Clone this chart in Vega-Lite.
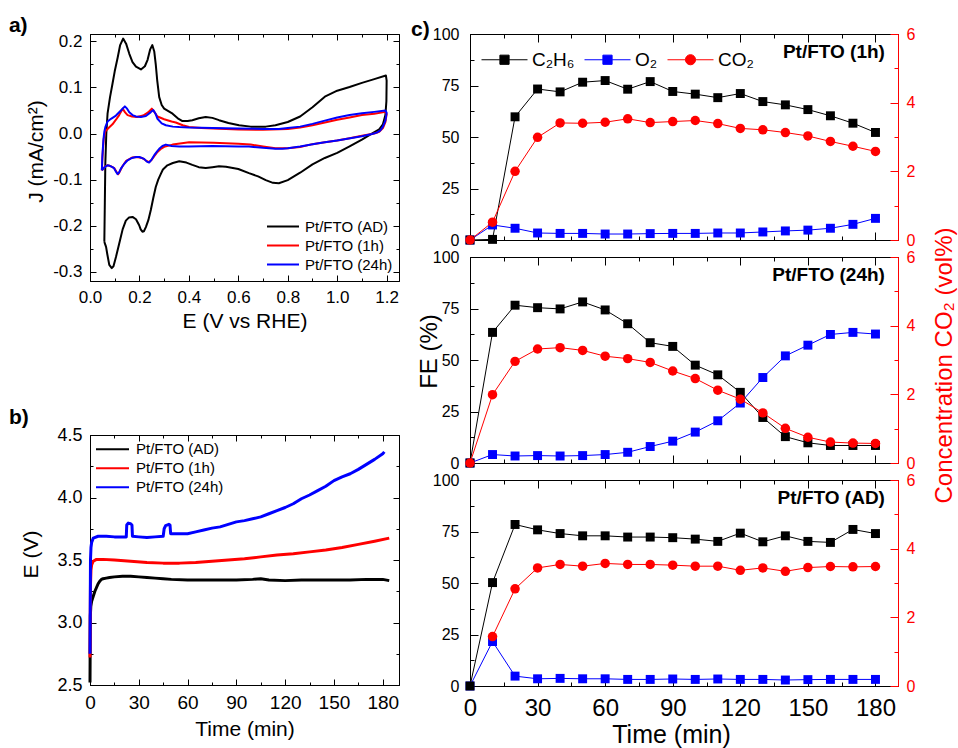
{
  "$schema": "https://vega.github.io/schema/vega-lite/v6.json",
  "background": "white",
  "padding": {"left": 8, "top": 14, "right": 2, "bottom": 2},
  "config": {
    "font": "Liberation Sans",
    "view": {"stroke": "black", "strokeWidth": 1},
    "axis": {"grid": false, "domainColor": "black", "tickColor": "black", "labelColor": "black", "titleColor": "black", "titleFontWeight": "normal", "labelOverlap": false, "labelFlush": false, "labelBound": false, "tickWidth": 1, "domainWidth": 1, "labelFont": "Liberation Sans", "titleFont": "Liberation Sans"},
    "legend": {"labelFont": "Liberation Sans", "labelColor": "black"},
    "text": {"font": "Liberation Sans"}
  },
  "datasets": {
    "cv": [
      {"s":"Pt/FTO (AD)","i":0,"E":0.058,"J":-0.235},{"s":"Pt/FTO (AD)","i":1,"E":0.060,"J":-0.15},{"s":"Pt/FTO (AD)","i":2,"E":0.062,"J":-0.065},{"s":"Pt/FTO (AD)","i":3,"E":0.066,"J":0.0},{"s":"Pt/FTO (AD)","i":4,"E":0.071,"J":0.043},{"s":"Pt/FTO (AD)","i":5,"E":0.081,"J":0.079},{"s":"Pt/FTO (AD)","i":6,"E":0.091,"J":0.108},{"s":"Pt/FTO (AD)","i":7,"E":0.100,"J":0.135},{"s":"Pt/FTO (AD)","i":8,"E":0.112,"J":0.165},{"s":"Pt/FTO (AD)","i":9,"E":0.122,"J":0.192},{"s":"Pt/FTO (AD)","i":10,"E":0.134,"J":0.206},{"s":"Pt/FTO (AD)","i":11,"E":0.146,"J":0.195},{"s":"Pt/FTO (AD)","i":12,"E":0.159,"J":0.173},{"s":"Pt/FTO (AD)","i":13,"E":0.172,"J":0.155},{"s":"Pt/FTO (AD)","i":14,"E":0.186,"J":0.145},{"s":"Pt/FTO (AD)","i":15,"E":0.206,"J":0.139},{"s":"Pt/FTO (AD)","i":16,"E":0.222,"J":0.146},{"s":"Pt/FTO (AD)","i":17,"E":0.233,"J":0.160},{"s":"Pt/FTO (AD)","i":18,"E":0.243,"J":0.182},{"s":"Pt/FTO (AD)","i":19,"E":0.252,"J":0.192},{"s":"Pt/FTO (AD)","i":20,"E":0.260,"J":0.178},{"s":"Pt/FTO (AD)","i":21,"E":0.266,"J":0.150},{"s":"Pt/FTO (AD)","i":22,"E":0.272,"J":0.115},{"s":"Pt/FTO (AD)","i":23,"E":0.280,"J":0.079},{"s":"Pt/FTO (AD)","i":24,"E":0.290,"J":0.062},{"s":"Pt/FTO (AD)","i":25,"E":0.300,"J":0.054},{"s":"Pt/FTO (AD)","i":26,"E":0.334,"J":0.043},{"s":"Pt/FTO (AD)","i":27,"E":0.355,"J":0.033},{"s":"Pt/FTO (AD)","i":28,"E":0.374,"J":0.027},{"s":"Pt/FTO (AD)","i":29,"E":0.395,"J":0.027},{"s":"Pt/FTO (AD)","i":30,"E":0.414,"J":0.029},{"s":"Pt/FTO (AD)","i":31,"E":0.440,"J":0.033},{"s":"Pt/FTO (AD)","i":32,"E":0.468,"J":0.036},{"s":"Pt/FTO (AD)","i":33,"E":0.495,"J":0.034},{"s":"Pt/FTO (AD)","i":34,"E":0.522,"J":0.029},{"s":"Pt/FTO (AD)","i":35,"E":0.560,"J":0.023},{"s":"Pt/FTO (AD)","i":36,"E":0.603,"J":0.018},{"s":"Pt/FTO (AD)","i":37,"E":0.650,"J":0.015},{"s":"Pt/FTO (AD)","i":38,"E":0.711,"J":0.015},{"s":"Pt/FTO (AD)","i":39,"E":0.750,"J":0.018},{"s":"Pt/FTO (AD)","i":40,"E":0.800,"J":0.025},{"s":"Pt/FTO (AD)","i":41,"E":0.850,"J":0.037},{"s":"Pt/FTO (AD)","i":42,"E":0.900,"J":0.057},{"s":"Pt/FTO (AD)","i":43,"E":0.950,"J":0.080},{"s":"Pt/FTO (AD)","i":44,"E":1.000,"J":0.093},{"s":"Pt/FTO (AD)","i":45,"E":1.050,"J":0.101},{"s":"Pt/FTO (AD)","i":46,"E":1.100,"J":0.110},{"s":"Pt/FTO (AD)","i":47,"E":1.150,"J":0.118},{"s":"Pt/FTO (AD)","i":48,"E":1.197,"J":0.126},{"s":"Pt/FTO (AD)","i":49,"E":1.200,"J":0.115},{"s":"Pt/FTO (AD)","i":50,"E":1.199,"J":0.070},{"s":"Pt/FTO (AD)","i":51,"E":1.195,"J":0.040},{"s":"Pt/FTO (AD)","i":52,"E":1.185,"J":0.020},{"s":"Pt/FTO (AD)","i":53,"E":1.170,"J":0.009},{"s":"Pt/FTO (AD)","i":54,"E":1.140,"J":0.000},{"s":"Pt/FTO (AD)","i":55,"E":1.100,"J":-0.013},{"s":"Pt/FTO (AD)","i":56,"E":1.050,"J":-0.028},{"s":"Pt/FTO (AD)","i":57,"E":1.000,"J":-0.042},{"s":"Pt/FTO (AD)","i":58,"E":0.950,"J":-0.053},{"s":"Pt/FTO (AD)","i":59,"E":0.900,"J":-0.067},{"s":"Pt/FTO (AD)","i":60,"E":0.850,"J":-0.085},{"s":"Pt/FTO (AD)","i":61,"E":0.800,"J":-0.101},{"s":"Pt/FTO (AD)","i":62,"E":0.764,"J":-0.108},{"s":"Pt/FTO (AD)","i":63,"E":0.740,"J":-0.107},{"s":"Pt/FTO (AD)","i":64,"E":0.711,"J":-0.101},{"s":"Pt/FTO (AD)","i":65,"E":0.680,"J":-0.093},{"s":"Pt/FTO (AD)","i":66,"E":0.643,"J":-0.086},{"s":"Pt/FTO (AD)","i":67,"E":0.600,"J":-0.077},{"s":"Pt/FTO (AD)","i":68,"E":0.550,"J":-0.072},{"s":"Pt/FTO (AD)","i":69,"E":0.522,"J":-0.071},{"s":"Pt/FTO (AD)","i":70,"E":0.495,"J":-0.073},{"s":"Pt/FTO (AD)","i":71,"E":0.468,"J":-0.075},{"s":"Pt/FTO (AD)","i":72,"E":0.440,"J":-0.073},{"s":"Pt/FTO (AD)","i":73,"E":0.414,"J":-0.068},{"s":"Pt/FTO (AD)","i":74,"E":0.390,"J":-0.063},{"s":"Pt/FTO (AD)","i":75,"E":0.361,"J":-0.060},{"s":"Pt/FTO (AD)","i":76,"E":0.335,"J":-0.064},{"s":"Pt/FTO (AD)","i":77,"E":0.313,"J":-0.069},{"s":"Pt/FTO (AD)","i":78,"E":0.295,"J":-0.078},{"s":"Pt/FTO (AD)","i":79,"E":0.287,"J":-0.087},{"s":"Pt/FTO (AD)","i":80,"E":0.276,"J":-0.100},{"s":"Pt/FTO (AD)","i":81,"E":0.266,"J":-0.116},{"s":"Pt/FTO (AD)","i":82,"E":0.256,"J":-0.140},{"s":"Pt/FTO (AD)","i":83,"E":0.246,"J":-0.166},{"s":"Pt/FTO (AD)","i":84,"E":0.236,"J":-0.188},{"s":"Pt/FTO (AD)","i":85,"E":0.226,"J":-0.203},{"s":"Pt/FTO (AD)","i":86,"E":0.218,"J":-0.212},{"s":"Pt/FTO (AD)","i":87,"E":0.212,"J":-0.213},{"s":"Pt/FTO (AD)","i":88,"E":0.205,"J":-0.208},{"s":"Pt/FTO (AD)","i":89,"E":0.199,"J":-0.199},{"s":"Pt/FTO (AD)","i":90,"E":0.186,"J":-0.186},{"s":"Pt/FTO (AD)","i":91,"E":0.172,"J":-0.181},{"s":"Pt/FTO (AD)","i":92,"E":0.158,"J":-0.182},{"s":"Pt/FTO (AD)","i":93,"E":0.145,"J":-0.189},{"s":"Pt/FTO (AD)","i":94,"E":0.132,"J":-0.208},{"s":"Pt/FTO (AD)","i":95,"E":0.118,"J":-0.239},{"s":"Pt/FTO (AD)","i":96,"E":0.105,"J":-0.268},{"s":"Pt/FTO (AD)","i":97,"E":0.095,"J":-0.288},{"s":"Pt/FTO (AD)","i":98,"E":0.088,"J":-0.292},{"s":"Pt/FTO (AD)","i":99,"E":0.078,"J":-0.285},{"s":"Pt/FTO (AD)","i":100,"E":0.070,"J":-0.262},{"s":"Pt/FTO (AD)","i":101,"E":0.065,"J":-0.246},{"s":"Pt/FTO (AD)","i":102,"E":0.058,"J":-0.235},
      {"s":"Pt/FTO (1h)","i":0,"E":0.048,"J":-0.080},{"s":"Pt/FTO (1h)","i":1,"E":0.050,"J":-0.055},{"s":"Pt/FTO (1h)","i":2,"E":0.053,"J":-0.030},{"s":"Pt/FTO (1h)","i":3,"E":0.056,"J":-0.010},{"s":"Pt/FTO (1h)","i":4,"E":0.062,"J":0.005},{"s":"Pt/FTO (1h)","i":5,"E":0.075,"J":0.012},{"s":"Pt/FTO (1h)","i":6,"E":0.091,"J":0.020},{"s":"Pt/FTO (1h)","i":7,"E":0.105,"J":0.030},{"s":"Pt/FTO (1h)","i":8,"E":0.118,"J":0.040},{"s":"Pt/FTO (1h)","i":9,"E":0.132,"J":0.054},{"s":"Pt/FTO (1h)","i":10,"E":0.142,"J":0.046},{"s":"Pt/FTO (1h)","i":11,"E":0.152,"J":0.040},{"s":"Pt/FTO (1h)","i":12,"E":0.170,"J":0.037},{"s":"Pt/FTO (1h)","i":13,"E":0.190,"J":0.036},{"s":"Pt/FTO (1h)","i":14,"E":0.215,"J":0.039},{"s":"Pt/FTO (1h)","i":15,"E":0.235,"J":0.046},{"s":"Pt/FTO (1h)","i":16,"E":0.250,"J":0.054},{"s":"Pt/FTO (1h)","i":17,"E":0.260,"J":0.047},{"s":"Pt/FTO (1h)","i":18,"E":0.273,"J":0.037},{"s":"Pt/FTO (1h)","i":19,"E":0.300,"J":0.031},{"s":"Pt/FTO (1h)","i":20,"E":0.330,"J":0.026},{"s":"Pt/FTO (1h)","i":21,"E":0.347,"J":0.024},{"s":"Pt/FTO (1h)","i":22,"E":0.375,"J":0.018},{"s":"Pt/FTO (1h)","i":23,"E":0.401,"J":0.014},{"s":"Pt/FTO (1h)","i":24,"E":0.450,"J":0.012},{"s":"Pt/FTO (1h)","i":25,"E":0.500,"J":0.011},{"s":"Pt/FTO (1h)","i":26,"E":0.600,"J":0.009},{"s":"Pt/FTO (1h)","i":27,"E":0.700,"J":0.008},{"s":"Pt/FTO (1h)","i":28,"E":0.800,"J":0.010},{"s":"Pt/FTO (1h)","i":29,"E":0.850,"J":0.013},{"s":"Pt/FTO (1h)","i":30,"E":0.900,"J":0.018},{"s":"Pt/FTO (1h)","i":31,"E":0.950,"J":0.024},{"s":"Pt/FTO (1h)","i":32,"E":1.000,"J":0.030},{"s":"Pt/FTO (1h)","i":33,"E":1.050,"J":0.035},{"s":"Pt/FTO (1h)","i":34,"E":1.100,"J":0.040},{"s":"Pt/FTO (1h)","i":35,"E":1.150,"J":0.043},{"s":"Pt/FTO (1h)","i":36,"E":1.195,"J":0.047},{"s":"Pt/FTO (1h)","i":37,"E":1.200,"J":0.042},{"s":"Pt/FTO (1h)","i":38,"E":1.195,"J":0.025},{"s":"Pt/FTO (1h)","i":39,"E":1.185,"J":0.012},{"s":"Pt/FTO (1h)","i":40,"E":1.170,"J":0.004},{"s":"Pt/FTO (1h)","i":41,"E":1.150,"J":0.000},{"s":"Pt/FTO (1h)","i":42,"E":1.100,"J":-0.005},{"s":"Pt/FTO (1h)","i":43,"E":1.050,"J":-0.010},{"s":"Pt/FTO (1h)","i":44,"E":1.000,"J":-0.015},{"s":"Pt/FTO (1h)","i":45,"E":0.950,"J":-0.019},{"s":"Pt/FTO (1h)","i":46,"E":0.900,"J":-0.023},{"s":"Pt/FTO (1h)","i":47,"E":0.850,"J":-0.029},{"s":"Pt/FTO (1h)","i":48,"E":0.800,"J":-0.032},{"s":"Pt/FTO (1h)","i":49,"E":0.750,"J":-0.032},{"s":"Pt/FTO (1h)","i":50,"E":0.700,"J":-0.028},{"s":"Pt/FTO (1h)","i":51,"E":0.650,"J":-0.024},{"s":"Pt/FTO (1h)","i":52,"E":0.600,"J":-0.022},{"s":"Pt/FTO (1h)","i":53,"E":0.500,"J":-0.020},{"s":"Pt/FTO (1h)","i":54,"E":0.401,"J":-0.019},{"s":"Pt/FTO (1h)","i":55,"E":0.334,"J":-0.024},{"s":"Pt/FTO (1h)","i":56,"E":0.300,"J":-0.029},{"s":"Pt/FTO (1h)","i":57,"E":0.285,"J":-0.034},{"s":"Pt/FTO (1h)","i":58,"E":0.273,"J":-0.040},{"s":"Pt/FTO (1h)","i":59,"E":0.260,"J":-0.049},{"s":"Pt/FTO (1h)","i":60,"E":0.248,"J":-0.058},{"s":"Pt/FTO (1h)","i":61,"E":0.238,"J":-0.062},{"s":"Pt/FTO (1h)","i":62,"E":0.225,"J":-0.058},{"s":"Pt/FTO (1h)","i":63,"E":0.210,"J":-0.053},{"s":"Pt/FTO (1h)","i":64,"E":0.190,"J":-0.051},{"s":"Pt/FTO (1h)","i":65,"E":0.170,"J":-0.052},{"s":"Pt/FTO (1h)","i":66,"E":0.145,"J":-0.060},{"s":"Pt/FTO (1h)","i":67,"E":0.130,"J":-0.072},{"s":"Pt/FTO (1h)","i":68,"E":0.120,"J":-0.083},{"s":"Pt/FTO (1h)","i":69,"E":0.114,"J":-0.088},{"s":"Pt/FTO (1h)","i":70,"E":0.107,"J":-0.083},{"s":"Pt/FTO (1h)","i":71,"E":0.098,"J":-0.075},{"s":"Pt/FTO (1h)","i":72,"E":0.085,"J":-0.071},{"s":"Pt/FTO (1h)","i":73,"E":0.070,"J":-0.069},{"s":"Pt/FTO (1h)","i":74,"E":0.060,"J":-0.072},{"s":"Pt/FTO (1h)","i":75,"E":0.054,"J":-0.076},{"s":"Pt/FTO (1h)","i":76,"E":0.048,"J":-0.080},
      {"s":"Pt/FTO (24h)","i":0,"E":0.048,"J":-0.080},{"s":"Pt/FTO (24h)","i":1,"E":0.050,"J":-0.050},{"s":"Pt/FTO (24h)","i":2,"E":0.054,"J":-0.015},{"s":"Pt/FTO (24h)","i":3,"E":0.058,"J":0.004},{"s":"Pt/FTO (24h)","i":4,"E":0.062,"J":0.014},{"s":"Pt/FTO (24h)","i":5,"E":0.071,"J":0.026},{"s":"Pt/FTO (24h)","i":6,"E":0.085,"J":0.032},{"s":"Pt/FTO (24h)","i":7,"E":0.105,"J":0.039},{"s":"Pt/FTO (24h)","i":8,"E":0.125,"J":0.050},{"s":"Pt/FTO (24h)","i":9,"E":0.141,"J":0.059},{"s":"Pt/FTO (24h)","i":10,"E":0.150,"J":0.054},{"s":"Pt/FTO (24h)","i":11,"E":0.159,"J":0.046},{"s":"Pt/FTO (24h)","i":12,"E":0.172,"J":0.040},{"s":"Pt/FTO (24h)","i":13,"E":0.186,"J":0.037},{"s":"Pt/FTO (24h)","i":14,"E":0.206,"J":0.036},{"s":"Pt/FTO (24h)","i":15,"E":0.226,"J":0.038},{"s":"Pt/FTO (24h)","i":16,"E":0.245,"J":0.046},{"s":"Pt/FTO (24h)","i":17,"E":0.256,"J":0.051},{"s":"Pt/FTO (24h)","i":18,"E":0.265,"J":0.043},{"s":"Pt/FTO (24h)","i":19,"E":0.273,"J":0.032},{"s":"Pt/FTO (24h)","i":20,"E":0.290,"J":0.022},{"s":"Pt/FTO (24h)","i":21,"E":0.307,"J":0.018},{"s":"Pt/FTO (24h)","i":22,"E":0.335,"J":0.015},{"s":"Pt/FTO (24h)","i":23,"E":0.361,"J":0.014},{"s":"Pt/FTO (24h)","i":24,"E":0.400,"J":0.013},{"s":"Pt/FTO (24h)","i":25,"E":0.495,"J":0.012},{"s":"Pt/FTO (24h)","i":26,"E":0.600,"J":0.011},{"s":"Pt/FTO (24h)","i":27,"E":0.700,"J":0.010},{"s":"Pt/FTO (24h)","i":28,"E":0.764,"J":0.010},{"s":"Pt/FTO (24h)","i":29,"E":0.800,"J":0.012},{"s":"Pt/FTO (24h)","i":30,"E":0.850,"J":0.015},{"s":"Pt/FTO (24h)","i":31,"E":0.900,"J":0.021},{"s":"Pt/FTO (24h)","i":32,"E":0.950,"J":0.028},{"s":"Pt/FTO (24h)","i":33,"E":1.000,"J":0.035},{"s":"Pt/FTO (24h)","i":34,"E":1.050,"J":0.040},{"s":"Pt/FTO (24h)","i":35,"E":1.100,"J":0.044},{"s":"Pt/FTO (24h)","i":36,"E":1.150,"J":0.047},{"s":"Pt/FTO (24h)","i":37,"E":1.195,"J":0.050},{"s":"Pt/FTO (24h)","i":38,"E":1.200,"J":0.045},{"s":"Pt/FTO (24h)","i":39,"E":1.195,"J":0.028},{"s":"Pt/FTO (24h)","i":40,"E":1.185,"J":0.015},{"s":"Pt/FTO (24h)","i":41,"E":1.175,"J":0.007},{"s":"Pt/FTO (24h)","i":42,"E":1.160,"J":0.002},{"s":"Pt/FTO (24h)","i":43,"E":1.141,"J":-0.001},{"s":"Pt/FTO (24h)","i":44,"E":1.100,"J":-0.006},{"s":"Pt/FTO (24h)","i":45,"E":1.047,"J":-0.011},{"s":"Pt/FTO (24h)","i":46,"E":1.000,"J":-0.015},{"s":"Pt/FTO (24h)","i":47,"E":0.950,"J":-0.019},{"s":"Pt/FTO (24h)","i":48,"E":0.912,"J":-0.022},{"s":"Pt/FTO (24h)","i":49,"E":0.850,"J":-0.028},{"s":"Pt/FTO (24h)","i":50,"E":0.800,"J":-0.032},{"s":"Pt/FTO (24h)","i":51,"E":0.778,"J":-0.033},{"s":"Pt/FTO (24h)","i":52,"E":0.750,"J":-0.033},{"s":"Pt/FTO (24h)","i":53,"E":0.700,"J":-0.031},{"s":"Pt/FTO (24h)","i":54,"E":0.643,"J":-0.028},{"s":"Pt/FTO (24h)","i":55,"E":0.600,"J":-0.028},{"s":"Pt/FTO (24h)","i":56,"E":0.495,"J":-0.027},{"s":"Pt/FTO (24h)","i":57,"E":0.400,"J":-0.028},{"s":"Pt/FTO (24h)","i":58,"E":0.361,"J":-0.028},{"s":"Pt/FTO (24h)","i":59,"E":0.330,"J":-0.027},{"s":"Pt/FTO (24h)","i":60,"E":0.307,"J":-0.024},{"s":"Pt/FTO (24h)","i":61,"E":0.293,"J":-0.027},{"s":"Pt/FTO (24h)","i":62,"E":0.280,"J":-0.033},{"s":"Pt/FTO (24h)","i":63,"E":0.270,"J":-0.040},{"s":"Pt/FTO (24h)","i":64,"E":0.260,"J":-0.047},{"s":"Pt/FTO (24h)","i":65,"E":0.250,"J":-0.056},{"s":"Pt/FTO (24h)","i":66,"E":0.239,"J":-0.063},{"s":"Pt/FTO (24h)","i":67,"E":0.230,"J":-0.061},{"s":"Pt/FTO (24h)","i":68,"E":0.219,"J":-0.055},{"s":"Pt/FTO (24h)","i":69,"E":0.200,"J":-0.051},{"s":"Pt/FTO (24h)","i":70,"E":0.186,"J":-0.051},{"s":"Pt/FTO (24h)","i":71,"E":0.170,"J":-0.053},{"s":"Pt/FTO (24h)","i":72,"E":0.152,"J":-0.058},{"s":"Pt/FTO (24h)","i":73,"E":0.138,"J":-0.066},{"s":"Pt/FTO (24h)","i":74,"E":0.125,"J":-0.076},{"s":"Pt/FTO (24h)","i":75,"E":0.117,"J":-0.085},{"s":"Pt/FTO (24h)","i":76,"E":0.111,"J":-0.088},{"s":"Pt/FTO (24h)","i":77,"E":0.104,"J":-0.082},{"s":"Pt/FTO (24h)","i":78,"E":0.097,"J":-0.075},{"s":"Pt/FTO (24h)","i":79,"E":0.091,"J":-0.073},{"s":"Pt/FTO (24h)","i":80,"E":0.080,"J":-0.070},{"s":"Pt/FTO (24h)","i":81,"E":0.071,"J":-0.069},{"s":"Pt/FTO (24h)","i":82,"E":0.062,"J":-0.072},{"s":"Pt/FTO (24h)","i":83,"E":0.054,"J":-0.076},{"s":"Pt/FTO (24h)","i":84,"E":0.048,"J":-0.080}
    ],
    "cp": [
      {"s":"Pt/FTO (AD)","t":0,"v":2.52},{"s":"Pt/FTO (AD)","t":0.2,"v":3.05},{"s":"Pt/FTO (AD)","t":0.5,"v":3.13},{"s":"Pt/FTO (AD)","t":1,"v":3.17},{"s":"Pt/FTO (AD)","t":2,"v":3.21},{"s":"Pt/FTO (AD)","t":3,"v":3.25},{"s":"Pt/FTO (AD)","t":4,"v":3.28},{"s":"Pt/FTO (AD)","t":5,"v":3.31},{"s":"Pt/FTO (AD)","t":6,"v":3.33},{"s":"Pt/FTO (AD)","t":7,"v":3.345},{"s":"Pt/FTO (AD)","t":8,"v":3.35},{"s":"Pt/FTO (AD)","t":10,"v":3.355},{"s":"Pt/FTO (AD)","t":12,"v":3.36},{"s":"Pt/FTO (AD)","t":15,"v":3.365},{"s":"Pt/FTO (AD)","t":20,"v":3.37},{"s":"Pt/FTO (AD)","t":25,"v":3.37},{"s":"Pt/FTO (AD)","t":30,"v":3.365},{"s":"Pt/FTO (AD)","t":35,"v":3.36},{"s":"Pt/FTO (AD)","t":40,"v":3.355},{"s":"Pt/FTO (AD)","t":45,"v":3.35},{"s":"Pt/FTO (AD)","t":50,"v":3.345},{"s":"Pt/FTO (AD)","t":60,"v":3.34},{"s":"Pt/FTO (AD)","t":70,"v":3.34},{"s":"Pt/FTO (AD)","t":80,"v":3.34},{"s":"Pt/FTO (AD)","t":90,"v":3.34},{"s":"Pt/FTO (AD)","t":100,"v":3.345},{"s":"Pt/FTO (AD)","t":105,"v":3.35},{"s":"Pt/FTO (AD)","t":110,"v":3.34},{"s":"Pt/FTO (AD)","t":120,"v":3.335},{"s":"Pt/FTO (AD)","t":130,"v":3.34},{"s":"Pt/FTO (AD)","t":140,"v":3.34},{"s":"Pt/FTO (AD)","t":150,"v":3.34},{"s":"Pt/FTO (AD)","t":160,"v":3.34},{"s":"Pt/FTO (AD)","t":170,"v":3.345},{"s":"Pt/FTO (AD)","t":180,"v":3.345},{"s":"Pt/FTO (AD)","t":184,"v":3.335},
      {"s":"Pt/FTO (1h)","t":0,"v":2.72},{"s":"Pt/FTO (1h)","t":0.3,"v":3.3},{"s":"Pt/FTO (1h)","t":0.6,"v":3.42},{"s":"Pt/FTO (1h)","t":1,"v":3.46},{"s":"Pt/FTO (1h)","t":2,"v":3.49},{"s":"Pt/FTO (1h)","t":4,"v":3.505},{"s":"Pt/FTO (1h)","t":8,"v":3.505},{"s":"Pt/FTO (1h)","t":15,"v":3.5},{"s":"Pt/FTO (1h)","t":25,"v":3.49},{"s":"Pt/FTO (1h)","t":35,"v":3.48},{"s":"Pt/FTO (1h)","t":45,"v":3.475},{"s":"Pt/FTO (1h)","t":55,"v":3.475},{"s":"Pt/FTO (1h)","t":65,"v":3.48},{"s":"Pt/FTO (1h)","t":75,"v":3.49},{"s":"Pt/FTO (1h)","t":85,"v":3.5},{"s":"Pt/FTO (1h)","t":95,"v":3.51},{"s":"Pt/FTO (1h)","t":105,"v":3.525},{"s":"Pt/FTO (1h)","t":115,"v":3.54},{"s":"Pt/FTO (1h)","t":125,"v":3.55},{"s":"Pt/FTO (1h)","t":135,"v":3.565},{"s":"Pt/FTO (1h)","t":145,"v":3.58},{"s":"Pt/FTO (1h)","t":155,"v":3.6},{"s":"Pt/FTO (1h)","t":165,"v":3.625},{"s":"Pt/FTO (1h)","t":175,"v":3.65},{"s":"Pt/FTO (1h)","t":184,"v":3.675},
      {"s":"Pt/FTO (24h)","t":0,"v":2.75},{"s":"Pt/FTO (24h)","t":0.3,"v":3.5},{"s":"Pt/FTO (24h)","t":0.6,"v":3.6},{"s":"Pt/FTO (24h)","t":1,"v":3.64},{"s":"Pt/FTO (24h)","t":2,"v":3.675},{"s":"Pt/FTO (24h)","t":5,"v":3.69},{"s":"Pt/FTO (24h)","t":10,"v":3.69},{"s":"Pt/FTO (24h)","t":15,"v":3.685},{"s":"Pt/FTO (24h)","t":20,"v":3.685},{"s":"Pt/FTO (24h)","t":22.3,"v":3.685},{"s":"Pt/FTO (24h)","t":22.6,"v":3.78},{"s":"Pt/FTO (24h)","t":23.5,"v":3.795},{"s":"Pt/FTO (24h)","t":25,"v":3.79},{"s":"Pt/FTO (24h)","t":25.8,"v":3.78},{"s":"Pt/FTO (24h)","t":26.1,"v":3.69},{"s":"Pt/FTO (24h)","t":30,"v":3.685},{"s":"Pt/FTO (24h)","t":35,"v":3.68},{"s":"Pt/FTO (24h)","t":40,"v":3.685},{"s":"Pt/FTO (24h)","t":45,"v":3.69},{"s":"Pt/FTO (24h)","t":45.6,"v":3.75},{"s":"Pt/FTO (24h)","t":46.5,"v":3.775},{"s":"Pt/FTO (24h)","t":48.5,"v":3.785},{"s":"Pt/FTO (24h)","t":49.2,"v":3.78},{"s":"Pt/FTO (24h)","t":49.6,"v":3.71},{"s":"Pt/FTO (24h)","t":55,"v":3.71},{"s":"Pt/FTO (24h)","t":60,"v":3.71},{"s":"Pt/FTO (24h)","t":65,"v":3.725},{"s":"Pt/FTO (24h)","t":70,"v":3.74},{"s":"Pt/FTO (24h)","t":75,"v":3.755},{"s":"Pt/FTO (24h)","t":80,"v":3.765},{"s":"Pt/FTO (24h)","t":85,"v":3.785},{"s":"Pt/FTO (24h)","t":90,"v":3.805},{"s":"Pt/FTO (24h)","t":95,"v":3.815},{"s":"Pt/FTO (24h)","t":100,"v":3.83},{"s":"Pt/FTO (24h)","t":105,"v":3.845},{"s":"Pt/FTO (24h)","t":110,"v":3.87},{"s":"Pt/FTO (24h)","t":115,"v":3.895},{"s":"Pt/FTO (24h)","t":120,"v":3.92},{"s":"Pt/FTO (24h)","t":125,"v":3.95},{"s":"Pt/FTO (24h)","t":130,"v":3.99},{"s":"Pt/FTO (24h)","t":135,"v":4.02},{"s":"Pt/FTO (24h)","t":140,"v":4.055},{"s":"Pt/FTO (24h)","t":145,"v":4.09},{"s":"Pt/FTO (24h)","t":150,"v":4.135},{"s":"Pt/FTO (24h)","t":155,"v":4.165},{"s":"Pt/FTO (24h)","t":160,"v":4.19},{"s":"Pt/FTO (24h)","t":165,"v":4.225},{"s":"Pt/FTO (24h)","t":170,"v":4.265},{"s":"Pt/FTO (24h)","t":175,"v":4.305},{"s":"Pt/FTO (24h)","t":180,"v":4.35},{"s":"Pt/FTO (24h)","t":181,"v":4.365}
    ],
    "fe": [
      {"p":"1h","s":"O₂","t":0,"v":0},{"p":"1h","s":"O₂","t":10,"v":7.3},{"p":"1h","s":"O₂","t":20,"v":5.7},{"p":"1h","s":"O₂","t":30,"v":3.4},{"p":"1h","s":"O₂","t":40,"v":3.2},{"p":"1h","s":"O₂","t":50,"v":3.2},{"p":"1h","s":"O₂","t":60,"v":2.9},{"p":"1h","s":"O₂","t":70,"v":2.9},{"p":"1h","s":"O₂","t":80,"v":3.1},{"p":"1h","s":"O₂","t":90,"v":3.2},{"p":"1h","s":"O₂","t":100,"v":3.2},{"p":"1h","s":"O₂","t":110,"v":3.4},{"p":"1h","s":"O₂","t":120,"v":3.4},{"p":"1h","s":"O₂","t":130,"v":3.9},{"p":"1h","s":"O₂","t":140,"v":4.4},{"p":"1h","s":"O₂","t":150,"v":4.8},{"p":"1h","s":"O₂","t":160,"v":5.7},{"p":"1h","s":"O₂","t":170,"v":7.6},{"p":"1h","s":"O₂","t":180,"v":10.5},
      {"p":"1h","s":"C₂H₆","t":0,"v":0},{"p":"1h","s":"C₂H₆","t":10,"v":0.3},{"p":"1h","s":"C₂H₆","t":20,"v":59.8},{"p":"1h","s":"C₂H₆","t":30,"v":73.3},{"p":"1h","s":"C₂H₆","t":40,"v":71.9},{"p":"1h","s":"C₂H₆","t":50,"v":76.6},{"p":"1h","s":"C₂H₆","t":60,"v":77.4},{"p":"1h","s":"C₂H₆","t":70,"v":73.2},{"p":"1h","s":"C₂H₆","t":80,"v":76.9},{"p":"1h","s":"C₂H₆","t":90,"v":72.1},{"p":"1h","s":"C₂H₆","t":100,"v":70.8},{"p":"1h","s":"C₂H₆","t":110,"v":69.1},{"p":"1h","s":"C₂H₆","t":120,"v":71.1},{"p":"1h","s":"C₂H₆","t":130,"v":67.2},{"p":"1h","s":"C₂H₆","t":140,"v":65.6},{"p":"1h","s":"C₂H₆","t":150,"v":63.3},{"p":"1h","s":"C₂H₆","t":160,"v":60.3},{"p":"1h","s":"C₂H₆","t":170,"v":56.7},{"p":"1h","s":"C₂H₆","t":180,"v":52.2},
      {"p":"1h","s":"CO₂","t":0,"v":0},{"p":"1h","s":"CO₂","t":10,"v":0.52},{"p":"1h","s":"CO₂","t":20,"v":2.0},{"p":"1h","s":"CO₂","t":30,"v":2.99},{"p":"1h","s":"CO₂","t":40,"v":3.41},{"p":"1h","s":"CO₂","t":50,"v":3.40},{"p":"1h","s":"CO₂","t":60,"v":3.43},{"p":"1h","s":"CO₂","t":70,"v":3.53},{"p":"1h","s":"CO₂","t":80,"v":3.42},{"p":"1h","s":"CO₂","t":90,"v":3.45},{"p":"1h","s":"CO₂","t":100,"v":3.48},{"p":"1h","s":"CO₂","t":110,"v":3.39},{"p":"1h","s":"CO₂","t":120,"v":3.25},{"p":"1h","s":"CO₂","t":130,"v":3.21},{"p":"1h","s":"CO₂","t":140,"v":3.13},{"p":"1h","s":"CO₂","t":150,"v":3.03},{"p":"1h","s":"CO₂","t":160,"v":2.87},{"p":"1h","s":"CO₂","t":170,"v":2.73},{"p":"1h","s":"CO₂","t":180,"v":2.58},
      {"p":"24h","s":"O₂","t":0,"v":0},{"p":"24h","s":"O₂","t":10,"v":4.1},{"p":"24h","s":"O₂","t":20,"v":3.4},{"p":"24h","s":"O₂","t":30,"v":3.6},{"p":"24h","s":"O₂","t":40,"v":3.4},{"p":"24h","s":"O₂","t":50,"v":3.6},{"p":"24h","s":"O₂","t":60,"v":4.1},{"p":"24h","s":"O₂","t":70,"v":5.2},{"p":"24h","s":"O₂","t":80,"v":8.0},{"p":"24h","s":"O₂","t":90,"v":10.6},{"p":"24h","s":"O₂","t":100,"v":15.0},{"p":"24h","s":"O₂","t":110,"v":20.5},{"p":"24h","s":"O₂","t":120,"v":29.1},{"p":"24h","s":"O₂","t":130,"v":41.5},{"p":"24h","s":"O₂","t":140,"v":52.0},{"p":"24h","s":"O₂","t":150,"v":57.2},{"p":"24h","s":"O₂","t":160,"v":62.4},{"p":"24h","s":"O₂","t":170,"v":63.4},{"p":"24h","s":"O₂","t":180,"v":62.6},
      {"p":"24h","s":"C₂H₆","t":0,"v":0},{"p":"24h","s":"C₂H₆","t":10,"v":63.4},{"p":"24h","s":"C₂H₆","t":20,"v":76.6},{"p":"24h","s":"C₂H₆","t":30,"v":75.4},{"p":"24h","s":"C₂H₆","t":40,"v":74.8},{"p":"24h","s":"C₂H₆","t":50,"v":78.2},{"p":"24h","s":"C₂H₆","t":60,"v":74.3},{"p":"24h","s":"C₂H₆","t":70,"v":67.6},{"p":"24h","s":"C₂H₆","t":80,"v":58.4},{"p":"24h","s":"C₂H₆","t":90,"v":56.6},{"p":"24h","s":"C₂H₆","t":100,"v":47.5},{"p":"24h","s":"C₂H₆","t":110,"v":42.8},{"p":"24h","s":"C₂H₆","t":120,"v":34.3},{"p":"24h","s":"C₂H₆","t":130,"v":22.1},{"p":"24h","s":"C₂H₆","t":140,"v":12.8},{"p":"24h","s":"C₂H₆","t":150,"v":9.8},{"p":"24h","s":"C₂H₆","t":160,"v":8.5},{"p":"24h","s":"C₂H₆","t":170,"v":8.5},{"p":"24h","s":"C₂H₆","t":180,"v":8.5},
      {"p":"24h","s":"CO₂","t":0,"v":0},{"p":"24h","s":"CO₂","t":10,"v":1.99},{"p":"24h","s":"CO₂","t":20,"v":2.96},{"p":"24h","s":"CO₂","t":30,"v":3.32},{"p":"24h","s":"CO₂","t":40,"v":3.36},{"p":"24h","s":"CO₂","t":50,"v":3.28},{"p":"24h","s":"CO₂","t":60,"v":3.11},{"p":"24h","s":"CO₂","t":70,"v":3.04},{"p":"24h","s":"CO₂","t":80,"v":2.93},{"p":"24h","s":"CO₂","t":90,"v":2.68},{"p":"24h","s":"CO₂","t":100,"v":2.46},{"p":"24h","s":"CO₂","t":110,"v":2.12},{"p":"24h","s":"CO₂","t":120,"v":1.86},{"p":"24h","s":"CO₂","t":130,"v":1.46},{"p":"24h","s":"CO₂","t":140,"v":1.01},{"p":"24h","s":"CO₂","t":150,"v":0.75},{"p":"24h","s":"CO₂","t":160,"v":0.61},{"p":"24h","s":"CO₂","t":170,"v":0.58},{"p":"24h","s":"CO₂","t":180,"v":0.57},
      {"p":"AD","s":"O₂","t":0,"v":0},{"p":"AD","s":"O₂","t":10,"v":21.6},{"p":"AD","s":"O₂","t":20,"v":4.8},{"p":"AD","s":"O₂","t":30,"v":3.5},{"p":"AD","s":"O₂","t":40,"v":3.7},{"p":"AD","s":"O₂","t":50,"v":3.5},{"p":"AD","s":"O₂","t":60,"v":3.5},{"p":"AD","s":"O₂","t":70,"v":3.2},{"p":"AD","s":"O₂","t":80,"v":3.2},{"p":"AD","s":"O₂","t":90,"v":3.4},{"p":"AD","s":"O₂","t":100,"v":3.2},{"p":"AD","s":"O₂","t":110,"v":3.4},{"p":"AD","s":"O₂","t":120,"v":3.2},{"p":"AD","s":"O₂","t":130,"v":3.2},{"p":"AD","s":"O₂","t":140,"v":2.9},{"p":"AD","s":"O₂","t":150,"v":3.1},{"p":"AD","s":"O₂","t":160,"v":3.2},{"p":"AD","s":"O₂","t":170,"v":3.2},{"p":"AD","s":"O₂","t":180,"v":3.2},
      {"p":"AD","s":"C₂H₆","t":0,"v":0},{"p":"AD","s":"C₂H₆","t":10,"v":50.2},{"p":"AD","s":"C₂H₆","t":20,"v":78.4},{"p":"AD","s":"C₂H₆","t":30,"v":75.8},{"p":"AD","s":"C₂H₆","t":40,"v":74.0},{"p":"AD","s":"C₂H₆","t":50,"v":72.9},{"p":"AD","s":"C₂H₆","t":60,"v":72.9},{"p":"AD","s":"C₂H₆","t":70,"v":72.3},{"p":"AD","s":"C₂H₆","t":80,"v":72.3},{"p":"AD","s":"C₂H₆","t":90,"v":72.0},{"p":"AD","s":"C₂H₆","t":100,"v":71.3},{"p":"AD","s":"C₂H₆","t":110,"v":70.2},{"p":"AD","s":"C₂H₆","t":120,"v":74.2},{"p":"AD","s":"C₂H₆","t":130,"v":70.0},{"p":"AD","s":"C₂H₆","t":140,"v":72.9},{"p":"AD","s":"C₂H₆","t":150,"v":70.2},{"p":"AD","s":"C₂H₆","t":160,"v":69.7},{"p":"AD","s":"C₂H₆","t":170,"v":76.0},{"p":"AD","s":"C₂H₆","t":180,"v":74.0},
      {"p":"AD","s":"CO₂","t":10,"v":1.44},{"p":"AD","s":"CO₂","t":20,"v":2.83},{"p":"AD","s":"CO₂","t":30,"v":3.44},{"p":"AD","s":"CO₂","t":40,"v":3.54},{"p":"AD","s":"CO₂","t":50,"v":3.49},{"p":"AD","s":"CO₂","t":60,"v":3.57},{"p":"AD","s":"CO₂","t":70,"v":3.54},{"p":"AD","s":"CO₂","t":80,"v":3.54},{"p":"AD","s":"CO₂","t":90,"v":3.52},{"p":"AD","s":"CO₂","t":100,"v":3.49},{"p":"AD","s":"CO₂","t":110,"v":3.49},{"p":"AD","s":"CO₂","t":120,"v":3.37},{"p":"AD","s":"CO₂","t":130,"v":3.44},{"p":"AD","s":"CO₂","t":140,"v":3.34},{"p":"AD","s":"CO₂","t":150,"v":3.45},{"p":"AD","s":"CO₂","t":160,"v":3.48},{"p":"AD","s":"CO₂","t":170,"v":3.47},{"p":"AD","s":"CO₂","t":180,"v":3.48}
    ]
  },
  "bounds": "flush",
  "spacing": 380,
  "resolve": {"scale": {"color": "independent"}, "legend": {"color": "independent"}},
  "hconcat": [
    {
      "bounds": "flush",
      "spacing": 154,
      "resolve": {"scale": {"color": "independent"}, "legend": {"color": "independent"}},
      "vconcat": [
        {
          "width": 309, "height": 247,
          "data": {"name": "cv"},
          "resolve": {"axis": {"x": "independent", "y": "independent"}},
          "layer": [
            {
              "mark": {"type": "line", "strokeWidth": 2, "strokeJoin": "round"},
              "encoding": {
                "x": {"field": "E", "type": "quantitative", "scale": {"domain": [0, 1.25], "nice": false, "zero": false},
                  "axis": {"values": [0,0.1,0.2,0.3,0.4,0.5,0.6,0.7,0.8,0.9,1,1.1,1.2], "labelExpr": "round(datum.value*10) % 2 === 1 ? '' : format(datum.value, '.1f')", "tickSize": {"condition": {"test": "round(datum.value*10) % 2 === 1", "value": -3}, "value": -6}, "labelPadding": 14, "labelFontSize": 17, "title": "E (V vs RHE)", "titleFontSize": 21, "titleY": 40, "titleBaseline": "middle"}},
                "y": {"field": "J", "type": "quantitative", "scale": {"domain": [-0.32, 0.216], "nice": false, "zero": false},
                  "axis": {"values": [-0.3,-0.25,-0.2,-0.15,-0.1,-0.05,0,0.05,0.1,0.15,0.2], "labelExpr": "abs(round(datum.value*20)) % 2 === 1 ? '' : replace(format(datum.value, '.1f'), '−', '-')", "tickSize": {"condition": {"test": "abs(round(datum.value*20)) % 2 === 1", "value": -3}, "value": -6}, "labelPadding": 14, "labelFontSize": 17, "title": "J (mA/cm²)", "titleFontSize": 21, "titleX": -54, "titleY": 117, "titleAlign": "center", "titleBaseline": "middle"}},
                "color": {"field": "s", "type": "nominal", "scale": {"domain": ["Pt/FTO (AD)", "Pt/FTO (1h)", "Pt/FTO (24h)"], "range": ["#000000", "#ff0000", "#0000ff"]},
                  "legend": {"orient": "none", "legendX": 176, "legendY": 183, "title": null, "symbolType": "stroke", "symbolSize": 1024, "symbolStrokeWidth": 2, "labelFontSize": 15, "clipHeight": 19, "rowPadding": 0, "labelOffset": 5, "padding": 0}},
                "order": {"field": "i", "type": "quantitative"}
              }
            },
            {
              "mark": {"type": "line", "opacity": 0},
              "encoding": {
                "x": {"field": "E", "type": "quantitative", "scale": {"domain": [0, 1.25], "nice": false, "zero": false},
                  "axis": {"orient": "top", "values": [0,0.1,0.2,0.3,0.4,0.5,0.6,0.7,0.8,0.9,1,1.1,1.2], "labels": false, "title": null, "tickSize": {"condition": {"test": "round(datum.value*10) % 2 === 1", "value": -3}, "value": -6}}},
                "y": {"field": "J", "type": "quantitative", "scale": {"domain": [-0.32, 0.216], "nice": false, "zero": false},
                  "axis": {"orient": "right", "values": [-0.3,-0.25,-0.2,-0.15,-0.1,-0.05,0,0.05,0.1,0.15,0.2], "labels": false, "title": null, "tickSize": {"condition": {"test": "abs(round(datum.value*20)) % 2 === 1", "value": -3}, "value": -6}}},
                "detail": {"field": "s"},
                "order": {"field": "i", "type": "quantitative"}
              }
            },
            {
              "data": {"values": [{"lbl": "a)"}]},
              "mark": {"type": "text", "align": "left", "baseline": "alphabetic", "fontSize": 21, "fontWeight": "bold", "color": "black"},
              "encoding": {
                "x": {"datum": -0.328, "type": "quantitative", "axis": null},
                "y": {"datum": 0.221, "type": "quantitative", "axis": null},
                "text": {"field": "lbl", "type": "nominal"}
              }
            }
          ]
        },
        {
          "width": 309, "height": 250,
          "data": {"name": "cp"},
          "resolve": {"axis": {"x": "independent", "y": "independent"}},
          "layer": [
            {
              "mark": {"type": "line", "strokeWidth": 3, "strokeJoin": "round"},
              "encoding": {
                "x": {"field": "t", "type": "quantitative", "scale": {"domain": [0, 190], "nice": false},
                  "axis": {"values": [0,15,30,45,60,75,90,105,120,135,150,165,180], "labelExpr": "datum.value % 30 !== 0 ? '' : datum.label", "tickSize": {"condition": {"test": "datum.value % 30 !== 0", "value": -3}, "value": -6}, "labelPadding": 14, "labelFontSize": 19, "title": "Time (min)", "titleFontSize": 21, "titleY": 44, "titleBaseline": "middle"}},
                "y": {"field": "v", "type": "quantitative", "scale": {"domain": [2.5, 4.5], "nice": false, "zero": false},
                  "axis": {"values": [2.5,2.75,3,3.25,3.5,3.75,4,4.25,4.5], "labelExpr": "round(datum.value*4) % 2 === 1 ? '' : format(datum.value, '.1f')", "tickSize": {"condition": {"test": "round(datum.value*4) % 2 === 1", "value": -3}, "value": -6}, "labelPadding": 14, "labelFontSize": 18, "title": "E (V)", "titleFontSize": 21, "titleX": -59, "titleY": 119, "titleAlign": "center", "titleBaseline": "middle"}},
                "color": {"field": "s", "type": "nominal", "scale": {"domain": ["Pt/FTO (AD)", "Pt/FTO (1h)", "Pt/FTO (24h)"], "range": ["#000000", "#ff0000", "#0000ff"]},
                  "legend": {"orient": "none", "legendX": 5, "legendY": 5, "title": null, "symbolType": "stroke", "symbolSize": 1089, "symbolStrokeWidth": 2, "labelFontSize": 15, "clipHeight": 18.6, "rowPadding": 0, "labelOffset": 6, "padding": 0}}
              }
            },
            {
              "mark": {"type": "line", "opacity": 0},
              "encoding": {
                "x": {"field": "t", "type": "quantitative", "scale": {"domain": [0, 190], "nice": false},
                  "axis": {"orient": "top", "values": [0,15,30,45,60,75,90,105,120,135,150,165,180], "labels": false, "title": null, "tickSize": {"condition": {"test": "datum.value % 30 !== 0", "value": -3}, "value": -6}}},
                "y": {"field": "v", "type": "quantitative", "scale": {"domain": [2.5, 4.5], "nice": false, "zero": false},
                  "axis": {"orient": "right", "values": [2.5,2.75,3,3.25,3.5,3.75,4,4.25,4.5], "labels": false, "title": null, "tickSize": {"condition": {"test": "round(datum.value*4) % 2 === 1", "value": -3}, "value": -6}}},
                "detail": {"field": "s"}
              }
            },
            {
              "data": {"values": [{"lbl": "b)"}]},
              "mark": {"type": "text", "align": "left", "baseline": "alphabetic", "fontSize": 21, "fontWeight": "bold", "color": "black"},
              "encoding": {
                "x": {"datum": -49.8, "type": "quantitative", "axis": null},
                "y": {"datum": 4.59, "type": "quantitative", "axis": null},
                "text": {"field": "lbl", "type": "nominal"}
              }
            }
          ]
        }
      ]
    },
    {
      "bounds": "flush",
      "spacing": 17,
      "resolve": {"scale": {"color": "independent"}, "legend": {"color": "independent"}},
      "vconcat": [
        {
          "width": 428, "height": 206,
          "data": {"name": "fe"},
          "transform": [{"filter": "datum.p === '1h'"}],
          "encoding": {
            "color": {"field": "s", "type": "nominal", "scale": {"domain": ["C₂H₆", "O₂", "CO₂"], "range": ["#000000", "#0000ff", "#ff0000"]},
              "legend": {"orient": "none", "legendX": 11, "legendY": 2, "direction": "horizontal", "title": null, "symbolSize": 2116, "labelFontSize": 19, "labelOffset": 4, "columnPadding": 7, "padding": 0,
                "encode": {"symbols": {"update": {
                  "shape": {"signal": "datum.value === 'CO₂' ? 'M-1,0H-0.22M0.22,0H1M0.22,0A0.22,0.22,0,1,1,-0.22,0A0.22,0.22,0,1,1,0.22,0Z' : 'M-1,0H-0.2M0.2,0H1M-0.2,-0.2H0.2V0.2H-0.2Z'"},
                  "fill": {"signal": "datum.value === 'CO₂' ? '#ff0000' : datum.value === 'O₂' ? '#0000ff' : '#000000'"},
                  "stroke": {"signal": "datum.value === 'CO₂' ? '#ff0000' : datum.value === 'O₂' ? '#0000ff' : '#000000'"},
                  "strokeWidth": {"value": 1},
                  "opacity": {"value": 1}
                }}}}}
          },
          "layer": [
            {
              "transform": [{"filter": "datum.s !== 'CO₂'"}],
              "encoding": {
                "x": {"field": "t", "type": "quantitative", "scale": {"domain": [0, 190], "nice": false},
                  "axis": {"values": [0,15,30,45,60,75,90,105,120,135,150,165,180], "labels": false, "title": null, "tickSize": {"condition": {"test": "datum.value % 30 !== 0", "value": -4}, "value": -8}}},
                "y": {"field": "v", "type": "quantitative", "scale": {"domain": [0, 100], "nice": false},
                  "axis": {"values": [0,12.5,25,37.5,50,62.5,75,87.5,100], "labelExpr": "datum.value % 25 !== 0 ? '' : datum.label", "tickSize": {"condition": {"test": "datum.value % 25 !== 0", "value": -4}, "value": -8}, "labelPadding": 19, "labelFontSize": 16, "title": null}}
              },
              "layer": [
                {"mark": {"type": "line", "strokeWidth": 1}},
                {"mark": {"type": "point", "shape": "square", "filled": true, "size": 80, "opacity": 1}},
                {
                  "transform": [{"filter": "datum.t === 0 && datum.s === 'C₂H₆'"}],
                  "mark": {"type": "text", "align": "left", "baseline": "alphabetic", "fontSize": 21, "fontWeight": "bold"},
                  "encoding": {"x": {"datum": -26.2, "type": "quantitative"}, "y": {"datum": 99.2, "type": "quantitative"}, "text": {"value": "c)"}, "color": {"value": "black"}}
                },
                {
                  "transform": [{"filter": "datum.t === 0 && datum.s === 'C₂H₆'"}],
                  "mark": {"type": "text", "align": "right", "baseline": "alphabetic", "fontSize": 19, "fontWeight": "bold"},
                  "encoding": {"x": {"datum": 184.2, "type": "quantitative"}, "y": {"datum": 88.2, "type": "quantitative"}, "text": {"value": "Pt/FTO (1h)"}, "color": {"value": "black"}}
                }
              ]
            },
            {
              "transform": [{"filter": "datum.s === 'CO₂'"}],
              "encoding": {
                "x": {"field": "t", "type": "quantitative", "scale": {"domain": [0, 190], "nice": false},
                  "axis": {"orient": "top", "values": [0,15,30,45,60,75,90,105,120,135,150,165,180], "labels": false, "title": null, "tickSize": {"condition": {"test": "datum.value % 30 !== 0", "value": -4}, "value": -8}}},
                "y": {"field": "v", "type": "quantitative", "scale": {"domain": [0, 6], "nice": false},
                  "axis": {"orient": "right", "values": [0,1,2,3,4,5,6], "labelExpr": "datum.value % 2 === 1 ? '' : datum.label", "tickSize": {"condition": {"test": "datum.value % 2 === 1", "value": -4}, "value": -8}, "labelPadding": 16, "labelFontSize": 16, "domainColor": "#ff0000", "tickColor": "#ff0000", "labelColor": "#ff0000", "title": null}}
              },
              "layer": [
                {"mark": {"type": "line", "strokeWidth": 1}},
                {"mark": {"type": "point", "shape": "circle", "filled": true, "size": 90, "opacity": 1}}
              ]
            }
          ],
          "resolve": {"scale": {"y": "independent"}, "axis": {"x": "independent", "y": "independent"}}
        },
        {
          "width": 428, "height": 206,
          "data": {"name": "fe"},
          "transform": [{"filter": "datum.p === '24h'"}],
          "encoding": {
            "color": {"field": "s", "type": "nominal", "scale": {"domain": ["C₂H₆", "O₂", "CO₂"], "range": ["#000000", "#0000ff", "#ff0000"]}, "legend": null}
          },
          "layer": [
            {
              "transform": [{"filter": "datum.s !== 'CO₂'"}],
              "encoding": {
                "x": {"field": "t", "type": "quantitative", "scale": {"domain": [0, 190], "nice": false},
                  "axis": {"values": [0,15,30,45,60,75,90,105,120,135,150,165,180], "labels": false, "title": null, "tickSize": {"condition": {"test": "datum.value % 30 !== 0", "value": -4}, "value": -8}}},
                "y": {"field": "v", "type": "quantitative", "scale": {"domain": [0, 100], "nice": false},
                  "axis": {"values": [0,12.5,25,37.5,50,62.5,75,87.5,100], "labelExpr": "datum.value % 25 !== 0 ? '' : datum.label", "tickSize": {"condition": {"test": "datum.value % 25 !== 0", "value": -4}, "value": -8}, "labelPadding": 19, "labelFontSize": 16, "title": "FE (%)", "titleFontSize": 24, "titleX": -41, "titleY": 94, "titleAlign": "center", "titleBaseline": "middle", "titleAngle": 270}}
              },
              "layer": [
                {"mark": {"type": "line", "strokeWidth": 1}},
                {"mark": {"type": "point", "shape": "square", "filled": true, "size": 80, "opacity": 1}},
                {
                  "transform": [{"filter": "datum.t === 0 && datum.s === 'C₂H₆'"}],
                  "mark": {"type": "text", "align": "right", "baseline": "alphabetic", "fontSize": 19, "fontWeight": "bold"},
                  "encoding": {"x": {"datum": 184.2, "type": "quantitative"}, "y": {"datum": 88.2, "type": "quantitative"}, "text": {"value": "Pt/FTO (24h)"}, "color": {"value": "black"}}
                }
              ]
            },
            {
              "transform": [{"filter": "datum.s === 'CO₂'"}],
              "encoding": {
                "x": {"field": "t", "type": "quantitative", "scale": {"domain": [0, 190], "nice": false},
                  "axis": {"orient": "top", "values": [0,15,30,45,60,75,90,105,120,135,150,165,180], "labels": false, "title": null, "tickSize": {"condition": {"test": "datum.value % 30 !== 0", "value": -4}, "value": -8}}},
                "y": {"field": "v", "type": "quantitative", "scale": {"domain": [0, 6], "nice": false},
                  "axis": {"orient": "right", "values": [0,1,2,3,4,5,6], "labelExpr": "datum.value % 2 === 1 ? '' : datum.label", "tickSize": {"condition": {"test": "datum.value % 2 === 1", "value": -4}, "value": -8}, "labelPadding": 16, "labelFontSize": 16, "domainColor": "#ff0000", "tickColor": "#ff0000", "labelColor": "#ff0000", "title": "Concentration CO₂ (vol%)", "titleColor": "#ff0000", "titleFontSize": 24, "titleAngle": 270, "titleX": 46, "titleY": 108, "titleAlign": "center", "titleBaseline": "middle"}}
              },
              "layer": [
                {"mark": {"type": "line", "strokeWidth": 1}},
                {"mark": {"type": "point", "shape": "circle", "filled": true, "size": 90, "opacity": 1}}
              ]
            }
          ],
          "resolve": {"scale": {"y": "independent"}, "axis": {"x": "independent", "y": "independent"}}
        },
        {
          "width": 428, "height": 206,
          "data": {"name": "fe"},
          "transform": [{"filter": "datum.p === 'AD'"}],
          "encoding": {
            "color": {"field": "s", "type": "nominal", "scale": {"domain": ["C₂H₆", "O₂", "CO₂"], "range": ["#000000", "#0000ff", "#ff0000"]}, "legend": null}
          },
          "layer": [
            {
              "transform": [{"filter": "datum.s !== 'CO₂'"}],
              "encoding": {
                "x": {"field": "t", "type": "quantitative", "scale": {"domain": [0, 190], "nice": false},
                  "axis": {"values": [0,15,30,45,60,75,90,105,120,135,150,165,180], "labelExpr": "datum.value % 30 !== 0 ? '' : datum.label", "tickSize": {"condition": {"test": "datum.value % 30 !== 0", "value": -4}, "value": -8}, "labelPadding": 18, "labelFontSize": 24, "title": "Time (min)", "titleFontSize": 25, "titleX": 201, "titleY": 48, "titleAlign": "center", "titleBaseline": "middle"}},
                "y": {"field": "v", "type": "quantitative", "scale": {"domain": [0, 100], "nice": false},
                  "axis": {"values": [0,12.5,25,37.5,50,62.5,75,87.5,100], "labelExpr": "datum.value % 25 !== 0 ? '' : datum.label", "tickSize": {"condition": {"test": "datum.value % 25 !== 0", "value": -4}, "value": -8}, "labelPadding": 19, "labelFontSize": 16, "title": null}}
              },
              "layer": [
                {"mark": {"type": "line", "strokeWidth": 1}},
                {"mark": {"type": "point", "shape": "square", "filled": true, "size": 80, "opacity": 1}},
                {
                  "transform": [{"filter": "datum.t === 0 && datum.s === 'C₂H₆'"}],
                  "mark": {"type": "text", "align": "right", "baseline": "alphabetic", "fontSize": 19, "fontWeight": "bold"},
                  "encoding": {"x": {"datum": 184.2, "type": "quantitative"}, "y": {"datum": 88.2, "type": "quantitative"}, "text": {"value": "Pt/FTO (AD)"}, "color": {"value": "black"}}
                }
              ]
            },
            {
              "transform": [{"filter": "datum.s === 'CO₂'"}],
              "encoding": {
                "x": {"field": "t", "type": "quantitative", "scale": {"domain": [0, 190], "nice": false},
                  "axis": {"orient": "top", "values": [0,15,30,45,60,75,90,105,120,135,150,165,180], "labels": false, "title": null, "tickSize": {"condition": {"test": "datum.value % 30 !== 0", "value": -4}, "value": -8}}},
                "y": {"field": "v", "type": "quantitative", "scale": {"domain": [0, 6], "nice": false},
                  "axis": {"orient": "right", "values": [0,1,2,3,4,5,6], "labelExpr": "datum.value % 2 === 1 ? '' : datum.label", "tickSize": {"condition": {"test": "datum.value % 2 === 1", "value": -4}, "value": -8}, "labelPadding": 16, "labelFontSize": 16, "domainColor": "#ff0000", "tickColor": "#ff0000", "labelColor": "#ff0000", "title": null}}
              },
              "layer": [
                {"mark": {"type": "line", "strokeWidth": 1}},
                {"mark": {"type": "point", "shape": "circle", "filled": true, "size": 90, "opacity": 1}}
              ]
            }
          ],
          "resolve": {"scale": {"y": "independent"}, "axis": {"x": "independent", "y": "independent"}}
        }
      ]
    }
  ]
}
